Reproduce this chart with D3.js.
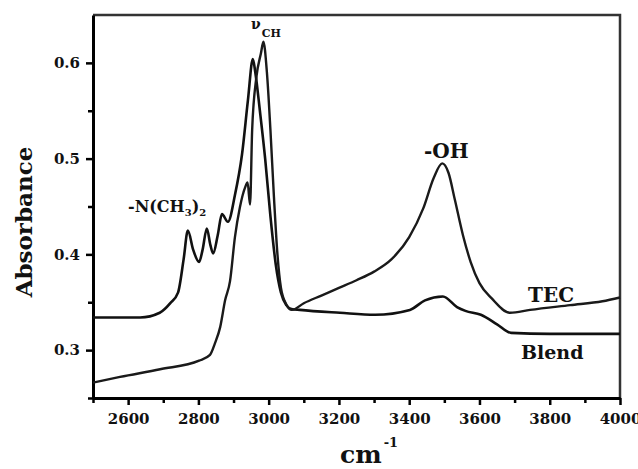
<!DOCTYPE html>
<html>
<head>
<meta charset="utf-8">
<script src="https://cdn.jsdelivr.net/npm/d3@7"></script>
<style>
body { margin: 0; background: #fff; }
text { font-family: "DejaVu Serif", "Liberation Serif", serif; font-weight: bold; }
</style>
</head>
<body>
<script>
var w = 638;
var h = 469;
var margin = { top: 15, right: 18, bottom: 71, left: 93 };
var iw = w - margin.left - margin.right;
var ih = h - margin.top - margin.bottom;

// wavenumber (cm-1) / absorbance
var tecX = [2500, 2577, 2691, 2802, 2833, 2847, 2862, 2876, 2890, 2904, 2918, 2933, 2940, 2947, 2953, 2965, 2978, 2985, 2995, 3005, 3015, 3025, 3035, 3050, 3066,
    3100, 3150, 3200, 3250, 3300, 3350, 3400, 3440, 3470, 3494, 3512, 3530, 3553, 3575, 3600, 3635, 3687, 3744, 3858, 3950, 4000];
var tecY = [0.266, 0.272, 0.280, 0.289, 0.295, 0.307, 0.324, 0.352, 0.372, 0.418, 0.449, 0.470, 0.475, 0.452, 0.530, 0.585, 0.610, 0.622, 0.590, 0.530, 0.460, 0.400, 0.365, 0.348, 0.342,
    0.349, 0.357, 0.365, 0.373, 0.382, 0.395, 0.418, 0.448, 0.480, 0.495, 0.485, 0.457, 0.420, 0.392, 0.370, 0.354, 0.339, 0.342, 0.347, 0.351, 0.355];

var blendX = [2500, 2634, 2690, 2720, 2742, 2758, 2770, 2785, 2802, 2812, 2824, 2834, 2842, 2855, 2867, 2884, 2904, 2924, 2941, 2955, 2962, 2975, 2990, 3005, 3020, 3035, 3050, 3065,
    3089, 3203, 3303, 3402, 3445, 3496, 3536, 3560, 3604, 3650, 3690, 3800, 4000];
var blendY = [0.334, 0.334, 0.339, 0.349, 0.360, 0.395, 0.425, 0.405, 0.392, 0.405, 0.427, 0.410, 0.401, 0.420, 0.442, 0.434, 0.462, 0.504, 0.561, 0.604, 0.590, 0.550, 0.500, 0.440, 0.390, 0.360, 0.347, 0.343,
    0.342, 0.339, 0.337, 0.342, 0.352, 0.356, 0.345, 0.341, 0.337, 0.327, 0.318, 0.317, 0.317];

var xTicks = [2600, 2800, 3000, 3200, 3400, 3600, 3800, 4000];
var xMinor = [2500, 2700, 2900, 3100, 3300, 3500, 3700, 3900];
var yTicks = [0.3, 0.4, 0.5, 0.6];
var yMinor = [0.25, 0.35, 0.45, 0.55];

var svg = d3.select("body")
    .append("svg")
    .attr("width", w)
    .attr("height", h)
    .append("g")
    .attr("transform", "translate(" + margin.left + "," + margin.top + ")");

var xScale = d3.scaleLinear()
    .domain([2500, 4000])
    .range([0, iw]);

var yScale = d3.scaleLinear()
    .domain([0.25, 0.65])
    .range([ih, 0]);

// frame top and right
svg.append("path")
    .attr("d", "M0,0H" + iw + "V" + ih)
    .attr("fill", "none")
    .attr("stroke", "#333")
    .attr("stroke-width", 2.5);

// minor ticks
var xMinorAxis = d3.axisBottom(xScale).tickValues(xMinor).tickSize(5).tickFormat("");
svg.append("g")
    .attr("transform", "translate(0," + ih + ")")
    .call(xMinorAxis)
    .call(function (g) { g.select(".domain").remove(); })
    .selectAll("line").attr("stroke-width", 2.5);

var yMinorAxis = d3.axisLeft(yScale).tickValues(yMinor).tickSize(5).tickFormat("");
svg.append("g")
    .call(yMinorAxis)
    .call(function (g) { g.select(".domain").remove(); })
    .selectAll("line").attr("stroke-width", 2.5);

// main axes
var xAxis = d3.axisBottom(xScale)
    .tickValues(xTicks)
    .tickSize(7)
    .tickSizeOuter(0)
    .tickPadding(8)
    .tickFormat(d3.format("d"));

var xAxisGroup = svg.append("g")
    .attr("transform", "translate(0," + ih + ")")
    .call(xAxis);

var yAxis = d3.axisLeft(yScale)
    .tickValues(yTicks)
    .tickSize(7)
    .tickSizeOuter(0)
    .tickPadding(6)
    .tickFormat(d3.format(".1f"));

var yAxisGroup = svg.append("g")
    .call(yAxis);

[xAxisGroup, yAxisGroup].forEach(function (g) {
    g.select(".domain").attr("stroke-width", 3);
    g.selectAll("line").attr("stroke-width", 2.5);
    g.selectAll("text")
        .attr("font-family", "DejaVu Serif")
        .attr("font-weight", "bold")
        .attr("font-size", 15)
        .attr("fill", "#111");
});

// spectra
var line = d3.line()
    .x(function (d) { return xScale(d[0]); })
    .y(function (d) { return yScale(d[1]); })
    .curve(d3.curveMonotoneX);

svg.append("path")
    .datum(d3.zip(blendX, blendY))
    .attr("d", line)
    .attr("fill", "none")
    .attr("stroke", "#111")
    .attr("stroke-width", 2.6)
    .attr("stroke-linejoin", "round");

svg.append("path")
    .datum(d3.zip(tecX, tecY))
    .attr("d", line)
    .attr("fill", "none")
    .attr("stroke", "#1a1a1a")
    .attr("stroke-width", 2.4)
    .attr("stroke-linejoin", "round");

// axis titles
var root = d3.select("svg");

root.append("text")
    .attr("transform", "translate(32,222) rotate(-90)")
    .attr("text-anchor", "middle")
    .attr("font-size", 23)
    .attr("fill", "#111")
    .text("Absorbance");

var xt = root.append("text")
    .attr("x", 340)
    .attr("y", 463)
    .attr("font-size", 25)
    .attr("fill", "#111");
xt.append("tspan").text("cm");
xt.append("tspan").attr("font-size", 13).attr("dy", -16).attr("dx", 2).text("-1");

// peak labels
var nLab = root.append("text")
    .attr("x", 128)
    .attr("y", 212)
    .attr("font-size", 16)
    .attr("fill", "#111");
nLab.append("tspan").text("-N(CH");
nLab.append("tspan").attr("font-size", 10).attr("dy", 4).text("3");
nLab.append("tspan").attr("dy", -4).text(")");
nLab.append("tspan").attr("font-size", 10).attr("dy", 4).text("2");

var vLab = root.append("text")
    .attr("x", 251)
    .attr("y", 29)
    .attr("font-size", 14)
    .attr("fill", "#111");
vLab.append("tspan").text("\u03bd");
vLab.append("tspan").attr("font-size", 11).attr("dy", 8).attr("dx", 1).text("CH");

root.append("text")
    .attr("x", 424)
    .attr("y", 158)
    .attr("font-size", 20)
    .attr("fill", "#111")
    .text("-OH");

root.append("text")
    .attr("x", 528)
    .attr("y", 302)
    .attr("font-size", 20)
    .attr("fill", "#111")
    .text("TEC");

root.append("text")
    .attr("x", 521)
    .attr("y", 359)
    .attr("font-size", 19)
    .attr("fill", "#111")
    .text("Blend");
</script>
</body>
</html>
